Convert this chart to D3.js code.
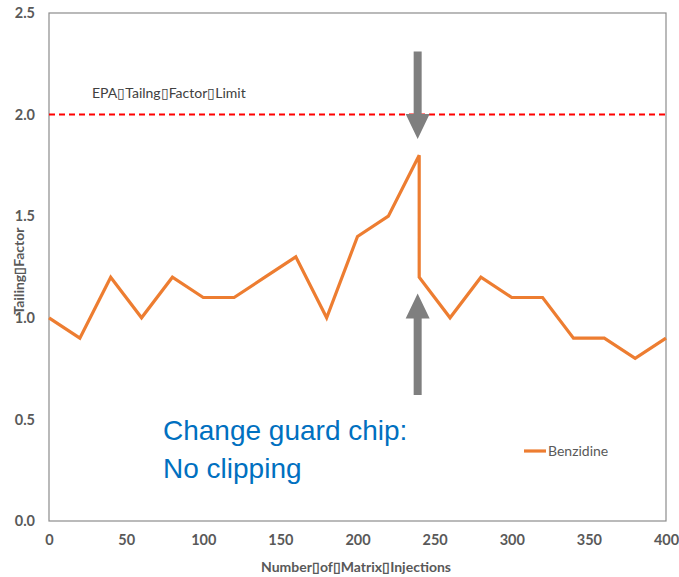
<!DOCTYPE html>
<html>
<head>
<meta charset="utf-8">
<title>Benzidine Tailing Factor</title>
<style>
  body { margin: 0; background: #fff; }
  svg text { font-family: Lato, "Open Sans", sans-serif; }
</style>
</head>
<body>
<svg width="679" height="577"></svg>
<script src="https://d3js.org/d3.v7.min.js"></script>
<script>
// injections vs tailing factor (the drop at 240 = guard chip change)
var injections = [0, 20, 40, 60, 80, 100, 120, 140, 160, 180, 200, 220, 240, 240, 260, 280, 300, 320, 340, 360, 380, 400];
var tailing    = [1.0, 0.9, 1.2, 1.0, 1.2, 1.1, 1.1, 1.2, 1.3, 1.0, 1.4, 1.5, 1.8, 1.2, 1.0, 1.2, 1.1, 1.1, 0.9, 0.9, 0.8, 0.9];
var xTicks = [0, 50, 100, 150, 200, 250, 300, 350, 400];
var yTicks = [0, 0.5, 1.0, 1.5, 2.0, 2.5];
var limitValue = 2.0;
// arrows: [x, from y, to y]
var arrows = [[239, 2.31, 1.88], [239, 0.62, 1.12]];

var svg = d3.select("svg");
var plotLeft = 49, plotRight = 666, plotTop = 13, plotBottom = 521;

var x = d3.scaleLinear().domain([0, 400]).range([plotLeft, plotRight]);
var y = d3.scaleLinear().domain([0, 2.5]).range([plotBottom, plotTop]);

// plot frame
svg.append("rect")
    .attr("x", plotLeft).attr("y", plotTop)
    .attr("width", plotRight - plotLeft).attr("height", plotBottom - plotTop)
    .attr("fill", "none")
    .attr("stroke", "#8c8c8c")
    .attr("stroke-width", 1.2);

// y axis labels
var yAxis = svg.append("g")
    .attr("transform", "translate(" + plotLeft + ",0)")
    .call(d3.axisLeft(y).tickValues(yTicks).tickSize(0).tickPadding(14).tickFormat(d3.format(".1f")));
yAxis.select(".domain").remove();
yAxis.selectAll("text")
    .attr("fill", "#595959")
    .attr("font-size", 14.5)
    .attr("font-weight", "bold")
    .style("font-family", "Lato, sans-serif");

// x axis labels
var xAxis = svg.append("g")
    .attr("transform", "translate(0," + plotBottom + ")")
    .call(d3.axisBottom(x).tickValues(xTicks).tickSize(0).tickPadding(14));
xAxis.select(".domain").remove();
xAxis.selectAll("text")
    .attr("fill", "#595959")
    .attr("font-size", 14.5)
    .attr("font-weight", "bold")
    .style("font-family", "Lato, sans-serif");

// axis titles
svg.append("text")
    .attr("x", 356)
    .attr("y", 572)
    .attr("text-anchor", "middle")
    .attr("fill", "#595959")
    .attr("font-size", 14)
    .attr("font-weight", "bold")
    .text("Number\u25AFof\u25AFMatrix\u25AFInjections");

svg.append("text")
    .attr("transform", "translate(24," + y(1.23) + ") rotate(-90)")
    .attr("text-anchor", "middle")
    .attr("fill", "#595959")
    .attr("font-size", 14)
    .attr("font-weight", "bold")
    .text("Tailing\u25AFFactor");

// EPA limit
svg.append("line")
    .attr("x1", plotLeft).attr("x2", plotRight)
    .attr("y1", y(limitValue)).attr("y2", y(limitValue))
    .attr("stroke", "#ff0000")
    .attr("stroke-width", 2)
    .attr("stroke-dasharray", "6,4");

svg.append("text")
    .attr("x", 92).attr("y", 98)
    .attr("fill", "#404040")
    .attr("font-size", 14)
    .text("EPA\u25AFTailng\u25AFFactor\u25AFLimit");

// series
var line = d3.line()
    .x(function(d, i) { return x(injections[i]); })
    .y(function(d) { return y(d); });

svg.append("path")
    .datum(tailing)
    .attr("d", line)
    .attr("fill", "none")
    .attr("stroke", "#ed7d31")
    .attr("stroke-width", 3.2)
    .attr("stroke-linejoin", "miter");

// arrows
arrows.forEach(function(a) {
  var ax = x(a[0]), y0 = y(a[1]), y1 = y(a[2]);
  var dir = y1 > y0 ? 1 : -1;
  var headLen = 25, headW = 12, shaftW = 4;
  var yb = y1 - dir * headLen;
  svg.append("path")
      .attr("d", "M" + (ax - shaftW) + "," + y0 +
                 "L" + (ax - shaftW) + "," + yb +
                 "L" + (ax - headW) + "," + yb +
                 "L" + ax + "," + y1 +
                 "L" + (ax + headW) + "," + yb +
                 "L" + (ax + shaftW) + "," + yb +
                 "L" + (ax + shaftW) + "," + y0 + "Z")
      .attr("fill", "#7f7f7f");
});

// annotation
var note = svg.append("text")
    .attr("fill", "#0070c0")
    .attr("font-size", 28)
    .style("font-family", "'Liberation Sans', Arial, sans-serif");
note.append("tspan").attr("x", 163).attr("y", 440).text("Change guard chip:");
note.append("tspan").attr("x", 163).attr("y", 478).text("No clipping");

// legend
svg.append("line")
    .attr("x1", 524).attr("x2", 546)
    .attr("y1", 451).attr("y2", 451)
    .attr("stroke", "#ed7d31")
    .attr("stroke-width", 3.2);
svg.append("text")
    .attr("x", 548).attr("y", 456)
    .attr("fill", "#595959")
    .attr("font-size", 14)
    .text("Benzidine");
</script>
</body>
</html>
